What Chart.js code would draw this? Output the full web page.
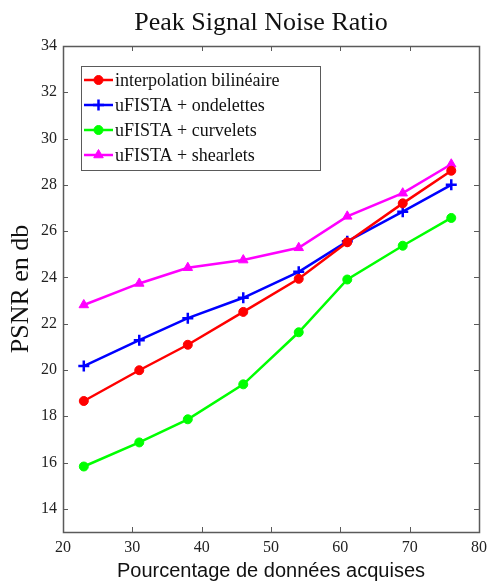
<!DOCTYPE html>
<html>
<head>
<meta charset="utf-8">
<script src="https://cdn.jsdelivr.net/npm/chart.js@4.4.1/dist/chart.umd.min.js"></script>
<style>
  html, body { margin: 0; padding: 0; background: #fff; }
</style>
</head>
<body>
<canvas id="graphePSNR" width="488" height="582"></canvas>
<script>
// Données
const pourcentages = [23, 31, 38, 46, 54, 61, 69, 76];
const bilineaire  = [18.66, 19.99, 21.09, 22.51, 23.94, 25.52, 27.20, 28.61];
const ondelettes  = [20.17, 21.29, 22.24, 23.12, 24.24, 25.56, 26.84, 28.00];
const curvelets   = [15.83, 16.87, 17.87, 19.38, 21.63, 23.91, 25.37, 26.57];
const shearlets   = [22.81, 23.74, 24.42, 24.75, 25.28, 26.64, 27.64, 28.89];
const nomsSeries  = ['interpolation bilinéaire', 'uFISTA + ondelettes', 'uFISTA + curvelets', 'uFISTA + shearlets'];
const titre = 'Peak Signal Noise Ratio';
const xTicks = [20, 30, 40, 50, 60, 70, 80];
const yTicks = [14, 16, 18, 20, 22, 24, 26, 28, 30, 32, 34];

const SERIF = '"Liberation Serif", "DejaVu Serif", serif';
const SANS = '"Liberation Sans", Arial, sans-serif';
const AXE = '#5a5a5a';

function points(valeurs) {
    return pourcentages.map((x, i) => ({ x: x, y: valeurs[i] }));
}

function serie(label, valeurs, couleur, style, rayon, bord) {
    return {
        label: label,
        data: points(valeurs),
        borderColor: couleur,
        backgroundColor: couleur,
        borderWidth: 2.5,
        pointStyle: style,
        pointRadius: rayon,
        pointBorderWidth: bord,
        pointBackgroundColor: couleur,
        pointBorderColor: couleur,
        tension: 0
    };
}

// titre, cadre, graduations internes et légende façon MATLAB
const cadrePlugin = {
    id: 'cadre',
    afterDatasetsDraw(chart) {
        const ctx = chart.ctx;
        const a = chart.chartArea;
        const sx = chart.scales.x, sy = chart.scales.y;
        ctx.save();

        ctx.fillStyle = '#111';
        ctx.font = '26px ' + SERIF;
        ctx.textAlign = 'center';
        ctx.textBaseline = 'middle';
        ctx.fillText(titre, (a.left + a.right) / 2 - 10, 23);
        ctx.textAlign = 'left';

        ctx.strokeStyle = AXE;
        ctx.lineWidth = 1;
        ctx.beginPath();
        xTicks.forEach(v => {
            const px = Math.round(sx.getPixelForValue(v)) + 0.5;
            ctx.moveTo(px, a.bottom); ctx.lineTo(px, a.bottom - 5);
            ctx.moveTo(px, a.top); ctx.lineTo(px, a.top + 5);
        });
        yTicks.forEach(v => {
            const py = Math.round(sy.getPixelForValue(v)) + 0.5;
            ctx.moveTo(a.left, py); ctx.lineTo(a.left + 5, py);
            ctx.moveTo(a.right, py); ctx.lineTo(a.right - 5, py);
        });
        ctx.stroke();
        ctx.lineWidth = 1.5;
        ctx.strokeRect(Math.round(a.left) + 0.5, Math.round(a.top) + 0.5,
            Math.round(a.right - a.left), Math.round(a.bottom - a.top));

        // légende
        const lx = 81.5, ly = 66.5, lw = 239, lh = 104;
        ctx.fillStyle = '#fff';
        ctx.fillRect(lx, ly, lw, lh);
        ctx.lineWidth = 1;
        ctx.strokeStyle = AXE;
        ctx.strokeRect(lx, ly, lw, lh);
        ctx.font = '18px ' + SERIF;
        chart.data.datasets.forEach((ds, i) => {
            const y = 80 + i * 25;
            ctx.strokeStyle = ds.borderColor;
            ctx.lineWidth = ds.borderWidth;
            ctx.beginPath();
            ctx.moveTo(84, y); ctx.lineTo(113, y);
            ctx.stroke();
            ctx.fillStyle = ds.pointBackgroundColor;
            ctx.lineWidth = ds.pointBorderWidth;
            Chart.helpers.drawPoint(ctx, { pointStyle: ds.pointStyle, radius: ds.pointRadius, rotation: 0, borderWidth: ds.pointBorderWidth }, 98.5, y);
            ctx.fillStyle = '#111';
            ctx.fillText(ds.label, 115, y + 1);
        });
        ctx.restore();
    }
};

const ctx = document.getElementById('graphePSNR').getContext('2d');
new Chart(ctx, {
    type: 'line',
    data: {
        datasets: [
            serie(nomsSeries[0], bilineaire, '#ff0000', 'circle', 4.5, 1),
            serie(nomsSeries[1], ondelettes, '#0000ff', 'cross', 5.5, 2.5),
            serie(nomsSeries[2], curvelets, '#00ff00', 'circle', 4.5, 1),
            serie(nomsSeries[3], shearlets, '#ff00ff', 'triangle', 5.5, 1)
        ]
    },
    options: {
        responsive: false,
        animation: false,
        devicePixelRatio: 1,
        layout: { padding: { left: 0, right: 0, top: 46, bottom: 0 } },
        plugins: {
            legend: { display: false },
            tooltip: { enabled: false },
            title: { display: false }
        },
        scales: {
            x: {
                type: 'linear',
                min: 20,
                max: 80,
                afterBuildTicks: s => { s.ticks = xTicks.map(v => ({ value: v })); },
                afterFit: s => { s.height = 50; s.paddingRight = 9; s.paddingLeft = 0; },
                grid: { display: false, drawTicks: false },
                border: { display: false },
                ticks: { color: '#222', padding: 6, font: { family: SERIF, size: 16 }, maxRotation: 0 },
                title: {
                    display: true,
                    text: 'Pourcentage de données acquises',
                    color: '#111',
                    font: { family: SANS, size: 20, lineHeight: 1.1 },
                    padding: { top: 0, bottom: 0 }
                }
            },
            y: {
                min: 13,
                max: 34,
                afterBuildTicks: s => { s.ticks = yTicks.map(v => ({ value: v })); },
                afterFit: s => { s.width = 63; },
                grid: { display: false, drawTicks: false },
                border: { display: false },
                ticks: { color: '#222', padding: 6, font: { family: SERIF, size: 16 } },
                title: {
                    display: true,
                    text: 'PSNR en db',
                    color: '#111',
                    font: { family: SERIF, size: 26 },
                    padding: { top: 6, bottom: 0 }
                }
            }
        }
    },
    plugins: [cadrePlugin]
});
</script>
</body>
</html>
